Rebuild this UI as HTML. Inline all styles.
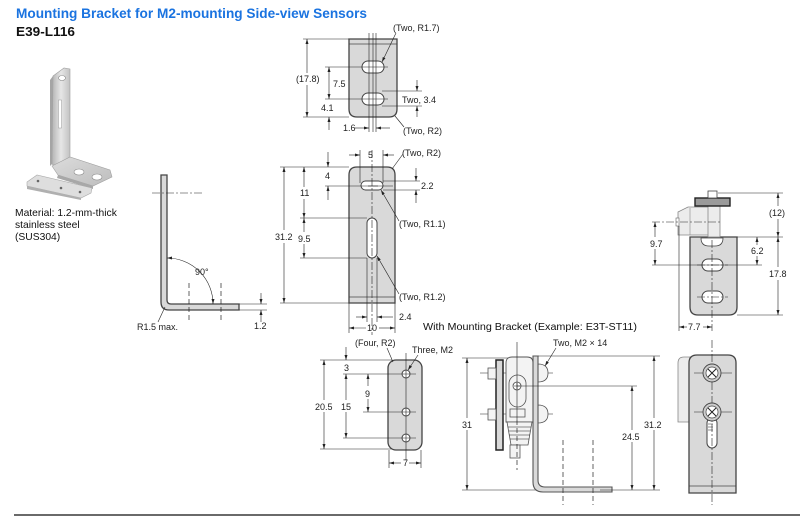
<!DOCTYPE html>
<html><head><meta charset="utf-8"><style>
html,body{margin:0;padding:0;background:#fff;}
svg{display:block;}
.t{font-family:"Liberation Sans",Arial,sans-serif;font-size:9px;fill:#222;}
.d{stroke:#222;stroke-width:0.6;fill:none;}
.o{stroke:#444;stroke-width:1.3;fill:#d9d9d9;}
.w{stroke:#444;stroke-width:1;fill:#fff;}
.c{stroke:#222;stroke-width:0.6;fill:none;stroke-dasharray:8 2 2 2;}
.k{stroke:#222;stroke-width:0.7;fill:none;stroke-dasharray:5 3;}
</style></head><body>
<svg width="800" height="517" viewBox="0 0 800 517" xmlns="http://www.w3.org/2000/svg">
<defs>
<marker id="ar" viewBox="0 0 10 6" refX="10" refY="3" markerWidth="5" markerHeight="3" orient="auto-start-reverse" markerUnits="userSpaceOnUse"><path d="M0,0 L10,3 L0,6z" fill="#222"/></marker>
<linearGradient id="g1" x1="0" y1="0" x2="1" y2="0"><stop offset="0" stop-color="#b5b5b5"/><stop offset="0.5" stop-color="#e6e6e6"/><stop offset="1" stop-color="#c2c2c2"/></linearGradient>
<linearGradient id="g2" x1="0" y1="0" x2="1" y2="1"><stop offset="0" stop-color="#dcdcdc"/><stop offset="1" stop-color="#bdbdbd"/></linearGradient>
</defs>

<!-- Title -->
<text x="16" y="18" font-family="Liberation Sans, Arial, sans-serif" font-size="14" font-weight="bold" fill="#1a73e0" textLength="351" lengthAdjust="spacingAndGlyphs">Mounting Bracket for M2-mounting Side-view Sensors</text>
<text x="16" y="36" font-family="Liberation Sans, Arial, sans-serif" font-size="13" font-weight="bold" fill="#111" textLength="59" lengthAdjust="spacingAndGlyphs">E39-L116</text>

<!-- Photo -->
<polygon points="53,76 64,68 70,69 70,157 56,167 52,164" fill="url(#g1)" stroke="#a0a0a0" stroke-width="0.6"/>
<polygon points="50,80 53,76 52,164 50,166" fill="#a5a5a5"/>
<ellipse cx="62" cy="78" rx="3.5" ry="2.5" fill="#fff" stroke="#888" stroke-width="0.6"/>
<rect x="58.5" y="100" width="3" height="28" fill="#fff" stroke="#999" stroke-width="0.5"/>
<polygon points="52,166 70,157 110,170 112,177 93,186 58,175" fill="url(#g2)" stroke="#a0a0a0" stroke-width="0.6"/>
<polygon points="58,175 93,186 93,189 57,178" fill="#a8a8a8"/>
<ellipse cx="79" cy="172" rx="5" ry="3" fill="#fff" stroke="#888" stroke-width="0.6"/>
<ellipse cx="97" cy="177" rx="5" ry="3" fill="#fff" stroke="#888" stroke-width="0.6"/>
<polygon points="27,182 37,175 92,188 91,193 81,198 27,186" fill="#dedede" stroke="#aaa" stroke-width="0.6"/>
<polygon points="27,186 81,198 81,200 27,189" fill="#b0b0b0"/>
<circle cx="38" cy="181" r="1.3" fill="#666"/>
<circle cx="61" cy="188" r="1.3" fill="#666"/>
<circle cx="80" cy="192" r="1.3" fill="#666"/>

<text font-family="Liberation Sans, Arial, sans-serif" font-size="10.3" fill="#111"><tspan x="15" y="216">Material: 1.2-mm-thick</tspan><tspan x="15" y="228">stainless steel</tspan><tspan x="15" y="240">(SUS304)</tspan></text>

<!-- Side L view -->
<path class="o" d="M161,175 H167 V300 Q167,304 171,304 H239 V310 H169 Q161,310 161,302 Z"/>
<line class="c" x1="152" y1="193" x2="202" y2="193"/>
<path class="d" d="M167,258 A46,46 0 0 1 213,304" marker-start="url(#ar)" marker-end="url(#ar)"/>
<text class="t" x="195" y="275" font-size="8">90°</text>
<line class="k" x1="189" y1="283" x2="189" y2="320"/>
<line class="k" x1="221" y1="283" x2="221" y2="320"/>
<line class="d" x1="239" y1="304" x2="267" y2="304"/>
<line class="d" x1="239" y1="310" x2="267" y2="310"/>
<line class="d" x1="261" y1="293" x2="261" y2="304" marker-end="url(#ar)"/>
<line class="d" x1="261" y1="322" x2="261" y2="310" marker-end="url(#ar)"/>
<text class="t" x="254" y="329">1.2</text>
<text class="t" x="137" y="330">R1.5 max.</text>
<line class="d" x1="158" y1="322" x2="165" y2="307"/>

<!-- Top view -->
<path class="o" d="M349,39 H397 V109 Q397,117 389,117 H357 Q349,117 349,109 Z"/>
<line class="d" x1="349" y1="44" x2="397" y2="44" style="stroke:#444;stroke-width:0.8"/>
<rect class="w" x="362" y="61" width="22" height="12" rx="6"/>
<rect class="w" x="362" y="93" width="22" height="12" rx="6"/>
<line class="d" x1="369" y1="33" x2="369" y2="132"/>
<line class="d" x1="373" y1="33" x2="373" y2="132"/>
<line class="d" x1="376" y1="33" x2="376" y2="132"/>
<line class="d" x1="325" y1="67" x2="388" y2="67"/>
<line class="d" x1="325" y1="99" x2="388" y2="99"/>
<line class="d" x1="303" y1="39" x2="349" y2="39"/>
<line class="d" x1="303" y1="117" x2="349" y2="117"/>
<line class="d" x1="307" y1="39" x2="307" y2="73" marker-start="url(#ar)"/>
<line class="d" x1="307" y1="85" x2="307" y2="117" marker-end="url(#ar)"/>
<text class="t" x="296" y="82">(17.8)</text>
<line class="d" x1="329" y1="67" x2="329" y2="99" marker-start="url(#ar)" marker-end="url(#ar)"/>
<text class="t" x="333" y="87">7.5</text>
<line class="d" x1="329" y1="130" x2="329" y2="117" marker-end="url(#ar)"/>
<text class="t" x="321" y="111">4.1</text>
<line class="d" x1="382" y1="91" x2="422" y2="91"/>
<line class="d" x1="382" y1="106" x2="422" y2="106"/>
<line class="d" x1="417" y1="80" x2="417" y2="91" marker-end="url(#ar)"/>
<line class="d" x1="417" y1="117" x2="417" y2="106" marker-end="url(#ar)"/>
<text class="t" x="402" y="103">Two, 3.4</text>
<text class="t" x="343" y="131">1.6</text>
<line class="d" x1="355" y1="128" x2="369" y2="128" marker-end="url(#ar)"/>
<line class="d" x1="390" y1="128" x2="376" y2="128" marker-end="url(#ar)"/>
<text class="t" x="403" y="134">(Two, R2)</text>
<line class="d" x1="395" y1="116" x2="404" y2="127"/>
<text class="t" x="393" y="31">(Two, R1.7)</text>
<line class="d" x1="396" y1="33" x2="382" y2="62" marker-end="url(#ar)"/>

<!-- Front view -->
<path class="o" d="M349,303 V175 Q349,167 357,167 H387 Q395,167 395,175 V303 Z"/>
<line x1="349" y1="297" x2="395" y2="297" stroke="#444" stroke-width="0.8"/>
<rect class="w" x="361" y="181" width="22" height="9" rx="4.5"/>
<rect class="w" x="367" y="218" width="10" height="40" rx="5"/>
<line class="d" x1="368" y1="186" x2="378" y2="186"/>
<line class="c" x1="372" y1="150" x2="372" y2="335"/>
<line class="d" x1="360" y1="150" x2="360" y2="183"/>
<line class="d" x1="383" y1="150" x2="383" y2="183"/>
<line class="d" x1="349" y1="155" x2="360" y2="155" marker-end="url(#ar)"/>
<line class="d" x1="394" y1="155" x2="383" y2="155" marker-end="url(#ar)"/>
<text class="t" x="368" y="158">5</text>
<text class="t" x="402" y="156">(Two, R2)</text>
<line class="d" x1="403" y1="154" x2="392" y2="169"/>
<line class="d" x1="328" y1="152" x2="328" y2="167" marker-end="url(#ar)"/>
<text class="t" x="325" y="179">4</text>
<line class="d" x1="328" y1="200" x2="328" y2="186" marker-end="url(#ar)"/>
<line class="d" x1="325" y1="186" x2="393" y2="186"/>
<line class="d" x1="383" y1="181" x2="420" y2="181"/>
<line class="d" x1="383" y1="190" x2="420" y2="190"/>
<line class="d" x1="416" y1="168" x2="416" y2="181" marker-end="url(#ar)"/>
<line class="d" x1="416" y1="203" x2="416" y2="190" marker-end="url(#ar)"/>
<text class="t" x="421" y="189">2.2</text>
<line class="d" x1="280" y1="167" x2="349" y2="167"/>
<line class="d" x1="280" y1="303" x2="349" y2="303"/>
<line class="d" x1="284" y1="167" x2="284" y2="230" marker-start="url(#ar)"/>
<line class="d" x1="284" y1="243" x2="284" y2="303" marker-end="url(#ar)"/>
<text class="t" x="275" y="240">31.2</text>
<line class="d" x1="304" y1="167" x2="304" y2="187" marker-start="url(#ar)"/>
<line class="d" x1="304" y1="199" x2="304" y2="218" marker-end="url(#ar)"/>
<text class="t" x="300" y="196">11</text>
<line class="d" x1="304" y1="218" x2="304" y2="232" marker-start="url(#ar)"/>
<line class="d" x1="304" y1="244" x2="304" y2="258" marker-end="url(#ar)"/>
<text class="t" x="298" y="242">9.5</text>
<line class="d" x1="300" y1="218" x2="367" y2="218"/>
<line class="d" x1="300" y1="258" x2="367" y2="258"/>
<text class="t" x="399" y="227">(Two, R1.1)</text>
<line class="d" x1="399" y1="221" x2="381" y2="190" marker-end="url(#ar)"/>
<text class="t" x="399" y="300">(Two, R1.2)</text>
<line class="d" x1="399" y1="294" x2="377" y2="256" marker-end="url(#ar)"/>
<line class="d" x1="367" y1="258" x2="367" y2="322"/>
<line class="d" x1="377" y1="258" x2="377" y2="322"/>
<line class="d" x1="356" y1="317" x2="367" y2="317" marker-end="url(#ar)"/>
<line class="d" x1="393" y1="317" x2="377" y2="317" marker-end="url(#ar)"/>
<text class="t" x="399" y="320">2.4</text>
<line class="d" x1="349" y1="303" x2="349" y2="333"/>
<line class="d" x1="395" y1="303" x2="395" y2="333"/>
<line class="d" x1="349" y1="328" x2="366" y2="328" marker-start="url(#ar)"/>
<line class="d" x1="379" y1="328" x2="395" y2="328" marker-end="url(#ar)"/>
<text class="t" x="367" y="331">10</text>

<!-- Small plate -->
<rect class="o" x="388" y="360" width="34" height="90" rx="8"/>
<line class="d" x1="406" y1="353" x2="406" y2="460"/>
<line class="d" x1="343" y1="374" x2="416" y2="374"/>
<line class="d" x1="363" y1="412" x2="416" y2="412"/>
<line class="d" x1="343" y1="438" x2="416" y2="438"/>
<circle class="w" cx="406" cy="374" r="4"/><circle class="w" cx="406" cy="412" r="4"/><circle class="w" cx="406" cy="438" r="4"/>
<path class="d" d="M402,374h8M406,370v8M402,412h8M406,408v8M402,438h8M406,434v8"/>
<line class="d" x1="320" y1="360" x2="392" y2="360"/>
<line class="d" x1="320" y1="449" x2="392" y2="449"/>
<line class="d" x1="324" y1="360" x2="324" y2="400" marker-start="url(#ar)"/>
<line class="d" x1="324" y1="412" x2="324" y2="449" marker-end="url(#ar)"/>
<text class="t" x="315" y="410">20.5</text>
<line class="d" x1="346" y1="347" x2="346" y2="360" marker-end="url(#ar)"/>
<text class="t" x="344" y="371">3</text>
<line class="d" x1="346" y1="374" x2="346" y2="400" marker-start="url(#ar)"/>
<line class="d" x1="346" y1="412" x2="346" y2="438" marker-end="url(#ar)"/>
<text class="t" x="341" y="410">15</text>
<line class="d" x1="368" y1="374" x2="368" y2="386" marker-start="url(#ar)"/>
<line class="d" x1="368" y1="399" x2="368" y2="412" marker-end="url(#ar)"/>
<text class="t" x="365" y="397">9</text>
<line class="d" x1="389" y1="450" x2="389" y2="468"/>
<line class="d" x1="421" y1="450" x2="421" y2="468"/>
<line class="d" x1="389" y1="463" x2="401" y2="463" marker-start="url(#ar)"/>
<line class="d" x1="409" y1="463" x2="421" y2="463" marker-end="url(#ar)"/>
<text class="t" x="403" y="466">7</text>
<text class="t" x="355" y="346">(Four, R2)</text>
<line class="d" x1="387" y1="348" x2="393" y2="362"/>
<text class="t" x="412" y="353">Three, M2</text>
<line class="d" x1="418" y1="355" x2="408" y2="370" marker-end="url(#ar)"/>

<!-- Assembly -->
<text x="423" y="330" font-family="Liberation Sans, Arial, sans-serif" font-size="10.5" fill="#111" textLength="214" lengthAdjust="spacingAndGlyphs">With Mounting Bracket (Example: E3T-ST11)</text>
<line class="d" x1="462" y1="358" x2="532" y2="358"/>
<line class="d" x1="462" y1="490" x2="540" y2="490"/>
<line class="d" x1="467" y1="358" x2="467" y2="418" marker-start="url(#ar)"/>
<line class="d" x1="467" y1="430" x2="467" y2="490" marker-end="url(#ar)"/>
<text class="t" x="462" y="428">31</text>
<line class="d" x1="480" y1="373" x2="553" y2="373"/>
<line class="d" x1="480" y1="414" x2="553" y2="414"/>
<rect x="496" y="360" width="7" height="90" fill="#d9d9d9" stroke="#222" stroke-width="1.5"/>
<rect x="488" y="368" width="8" height="11" fill="#f4f4f4" stroke="#555" stroke-width="0.8"/>
<rect x="488" y="409" width="8" height="11" fill="#f4f4f4" stroke="#555" stroke-width="0.8"/>
<path d="M506,422 V363 Q506,357 512,357 H527 Q533,357 533,363 V422 Z" fill="#f3f3f3" stroke="#555" stroke-width="0.9"/>
<rect x="509" y="375" width="17" height="32" rx="8.5" fill="none" stroke="#555" stroke-width="0.8"/>
<circle cx="517" cy="386" r="4" fill="#fff" stroke="#444" stroke-width="0.8"/>
<path class="d" d="M514,386h6M517,383v6"/>
<rect x="510" y="409" width="15" height="8" fill="#f3f3f3" stroke="#555" stroke-width="0.8"/>
<path d="M507,422 H532 L528,445 H511 Z" fill="#f3f3f3" stroke="#555" stroke-width="0.8"/>
<path class="d" d="M508,427h23M509,431h21M509,435h21M510,439h19"/>
<rect x="510" y="445" width="10" height="13" fill="#f3f3f3" stroke="#555" stroke-width="0.8"/>
<line class="d" x1="517" y1="342" x2="517" y2="420"/>
<line class="k" x1="517" y1="420" x2="517" y2="470"/>
<path d="M538,364 Q548,364 548,373 Q548,382 538,382 Z" fill="#f3f3f3" stroke="#555" stroke-width="0.8"/>
<path d="M538,405 Q548,405 548,414 Q548,423 538,423 Z" fill="#f3f3f3" stroke="#555" stroke-width="0.8"/>
<path d="M533,356 H538 V480 Q538,487 545,487 H612 V492 H543 Q533,492 533,482 Z" fill="#d9d9d9" stroke="#555" stroke-width="1.1"/>
<line class="d" x1="538" y1="356" x2="660" y2="356"/>
<line class="d" x1="517" y1="386" x2="637" y2="386"/>
<line class="d" x1="600" y1="490" x2="660" y2="490"/>
<line class="d" x1="632" y1="386" x2="632" y2="430" marker-start="url(#ar)"/>
<line class="d" x1="632" y1="442" x2="632" y2="490" marker-end="url(#ar)"/>
<text class="t" x="622" y="440">24.5</text>
<line class="d" x1="654" y1="356" x2="654" y2="418" marker-start="url(#ar)"/>
<line class="d" x1="654" y1="430" x2="654" y2="490" marker-end="url(#ar)"/>
<text class="t" x="644" y="428">31.2</text>
<line class="k" x1="563" y1="440" x2="563" y2="505"/>
<line class="k" x1="593" y1="440" x2="593" y2="505"/>
<text class="t" x="553" y="346">Two, M2 × 14</text>
<line class="d" x1="556" y1="348" x2="545" y2="366" marker-end="url(#ar)"/>

<!-- Right top view -->
<path class="o" d="M690,237 H737 V307 Q737,315 729,315 H698 Q690,315 690,307 Z"/>
<path d="M701,238 Q701,246 709,246 H715 Q723,246 723,238 Z" fill="#fff" stroke="#444" stroke-width="0.8"/>
<rect class="w" x="702" y="259" width="21" height="12" rx="6"/>
<rect class="w" x="702" y="291" width="21" height="12" rx="6"/>
<line class="c" x1="712" y1="240" x2="712" y2="331"/>
<line class="c" x1="697" y1="265" x2="728" y2="265"/>
<line class="c" x1="697" y1="297" x2="728" y2="297"/>
<polygon points="678,212 688,207 708,207 712,212 712,235 690,235 678,235" fill="#ececec" stroke="#888" stroke-width="0.8"/>
<line x1="690" y1="208" x2="690" y2="235" stroke="#888" stroke-width="0.6"/>
<rect x="676" y="218" width="3" height="8" fill="#fff" stroke="#666" stroke-width="0.6"/>
<rect x="708" y="200" width="12" height="37" fill="#ececec" stroke="#888" stroke-width="0.8"/>
<rect x="695" y="198" width="35" height="8" fill="#9a9a9a" stroke="#222" stroke-width="1.4"/>
<rect x="708" y="191" width="9" height="7" fill="#fff" stroke="#444" stroke-width="0.8"/>
<line class="c" x1="652" y1="222" x2="720" y2="222"/>
<line class="d" x1="652" y1="265" x2="762" y2="265"/>
<line class="d" x1="655" y1="222" x2="655" y2="237" marker-start="url(#ar)"/>
<line class="d" x1="655" y1="249" x2="655" y2="265" marker-end="url(#ar)"/>
<text class="t" x="650" y="247">9.7</text>
<line class="d" x1="718" y1="193" x2="783" y2="193"/>
<line class="d" x1="737" y1="237" x2="783" y2="237"/>
<line class="d" x1="737" y1="315" x2="783" y2="315"/>
<line class="d" x1="757" y1="237" x2="757" y2="245" marker-start="url(#ar)"/>
<line class="d" x1="757" y1="256" x2="757" y2="265" marker-end="url(#ar)"/>
<text class="t" x="751" y="254">6.2</text>
<line class="d" x1="778" y1="193" x2="778" y2="206" marker-start="url(#ar)"/>
<line class="d" x1="778" y1="219" x2="778" y2="237" marker-end="url(#ar)"/>
<text class="t" x="769" y="216">(12)</text>
<line class="d" x1="778" y1="237" x2="778" y2="267" marker-start="url(#ar)"/>
<line class="d" x1="778" y1="280" x2="778" y2="315" marker-end="url(#ar)"/>
<text class="t" x="769" y="277">17.8</text>
<line class="d" x1="679" y1="226" x2="679" y2="331"/>
<line class="d" x1="679" y1="327" x2="687" y2="327" marker-start="url(#ar)"/>
<line class="d" x1="703" y1="327" x2="712" y2="327" marker-end="url(#ar)"/>
<text class="t" x="688" y="330">7.7</text>

<!-- Right bottom view -->
<path d="M690,357 H684 Q678,357 678,363 V422 H690 Z" fill="#ececec" stroke="#888" stroke-width="0.8"/>
<path class="o" d="M689,493 V363 Q689,355 697,355 H728 Q736,355 736,363 V493 Z"/>
<line x1="689" y1="486" x2="736" y2="486" stroke="#444" stroke-width="0.8"/>
<rect class="w" x="707" y="418" width="10" height="30" rx="5"/>
<path class="d" d="M708,424h5M708,427h5M708,430h5"/>
<line class="c" x1="712" y1="340" x2="712" y2="505"/>
<line class="d" x1="694" y1="373" x2="732" y2="373"/>
<line class="d" x1="694" y1="412" x2="732" y2="412"/>
<circle cx="712" cy="373" r="9" fill="#ccc" stroke="#444" stroke-width="0.9"/>
<circle cx="712" cy="373" r="6" fill="#fff" stroke="#444" stroke-width="0.7"/>
<circle cx="712" cy="412" r="9" fill="#ccc" stroke="#444" stroke-width="0.9"/>
<circle cx="712" cy="412" r="6" fill="#fff" stroke="#444" stroke-width="0.7"/>
<path d="M708,369l8,8M716,369l-8,8M708,408l8,8M716,408l-8,8" stroke="#222" stroke-width="1"/>

<!-- bottom rule -->
<line x1="14" y1="515" x2="800" y2="515" stroke="#111" stroke-width="1.3"/>
</svg>
</body></html>
